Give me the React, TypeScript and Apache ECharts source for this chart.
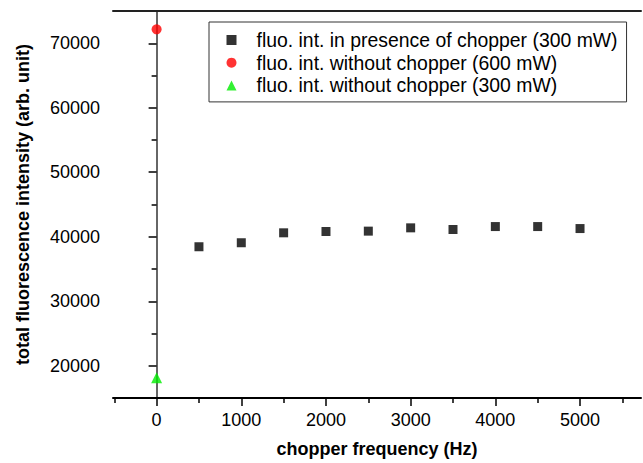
import React, { useEffect, useRef } from "react";
import * as echarts from "echarts";

const chopperFreqs = [500, 1000, 1500, 2000, 2500, 3000, 3500, 4000, 4500, 5000];
const chopperValues = [38450, 39070, 40610, 40810, 40870, 41380, 41120, 41580, 41580, 41270];
const noChopper600 = [[0, 72160]];
const noChopper300 = [[0, 18150]];
const xMajorTicks = [0, 1000, 2000, 3000, 4000, 5000];
const xMinorTicks = [-500, 500, 1500, 2500, 3500, 4500, 5500];
const yMajorTicks = [20000, 30000, 40000, 50000, 60000, 70000];
const yMinorTicks = [25000, 35000, 45000, 55000, 65000];
const seriesNames = [
  "fluo. int. in presence of chopper (300 mW)",
  "fluo. int. without chopper (600 mW)",
  "fluo. int. without chopper (300 mW)",
];
const seriesSymbols = ["rect", "circle", "triangle"];
const seriesColors = ["#000000", "#ff0000", "#00ee00"];

const FONT = "Liberation Sans, Arial, Helvetica, sans-serif";

export default function App() {
  const ref = useRef<HTMLDivElement>(null);
  useEffect(() => {
    if (!ref.current) return;
    const chart = echarts.init(ref.current, null, { renderer: "svg" });
    const xMin = -515;
    const xMax = 5720;
    const yMin = 15000;
    const yMax = 75000;
    const plain = (v: number) => String(v);
    chart.setOption({
      animation: false,
      backgroundColor: "#fff",
      grid: { left: 113, right: 2, top: 11, bottom: 62.5, containLabel: false },
      legend: {
        orient: "vertical",
        left: 209,
        top: 22,
        padding: [8.5, 9, 7, 17.5],
        borderColor: "#333",
        borderWidth: 1,
        itemWidth: 10,
        itemHeight: 10,
        itemGap: 3.7,
        textStyle: { fontFamily: FONT, fontSize: 19.4, color: "#000", lineHeight: 18, padding: [0, 0, 0, 15] },
        data: seriesNames.map((n, i) => ({ name: n, icon: seriesSymbols[i] })),
      },
      xAxis: [
        {
          type: "value",
          position: "bottom",
          min: xMin,
          max: xMax,
          name: "chopper frequency (Hz)",
          nameLocation: "middle",
          nameGap: 42,
          nameTextStyle: { fontFamily: FONT, fontSize: 18, fontWeight: "bold", color: "#000" },
          axisLine: { show: true, lineStyle: { color: "#000", width: 2 } },
          axisTick: { show: true, length: 8, customValues: xMajorTicks, lineStyle: { color: "#000", width: 1.5 } },
          axisLabel: { customValues: xMajorTicks, formatter: plain, fontFamily: FONT, fontSize: 18, color: "#000", margin: 13 },
          splitLine: { show: false },
        },
        {
          type: "value",
          position: "bottom",
          min: xMin,
          max: xMax,
          axisLine: { show: false },
          axisTick: { show: true, length: 5, customValues: xMinorTicks, lineStyle: { color: "#000", width: 1.5 } },
          axisLabel: { show: false },
          splitLine: { show: false },
        },
        {
          type: "value",
          position: "top",
          min: xMin,
          max: xMax,
          axisLine: { show: true, lineStyle: { color: "#222", width: 2 } },
          axisTick: { show: false },
          axisLabel: { show: false },
          splitLine: { show: false },
        },
      ],
      yAxis: [
        {
          type: "value",
          position: "left",
          min: yMin,
          max: yMax,
          name: "total fluorescence intensity (arb. unit)",
          nameLocation: "middle",
          nameGap: 81,
          nameTextStyle: { fontFamily: FONT, fontSize: 18, fontWeight: "bold", color: "#000" },
          axisLine: { show: true, lineStyle: { color: "#000", width: 2 } },
          axisTick: { show: true, length: 8, customValues: yMajorTicks, lineStyle: { color: "#000", width: 1.5 } },
          axisLabel: { customValues: yMajorTicks, formatter: plain, fontFamily: FONT, fontSize: 18, color: "#000", margin: 13 },
          splitLine: { show: false },
        },
        {
          type: "value",
          position: "left",
          min: yMin,
          max: yMax,
          axisLine: { show: false },
          axisTick: { show: true, length: 5, customValues: yMinorTicks, lineStyle: { color: "#000", width: 1.5 } },
          axisLabel: { show: false },
          splitLine: { show: false },
        },
        {
          type: "value",
          position: "right",
          min: yMin,
          max: yMax,
          axisLine: { show: true, lineStyle: { color: "#888", width: 1.5 } },
          axisTick: { show: false },
          axisLabel: { show: false },
          splitLine: { show: false },
        },
      ],
      series: [
        {
          name: seriesNames[0],
          type: "scatter",
          xAxisIndex: 0,
          yAxisIndex: 0,
          symbol: seriesSymbols[0],
          symbolSize: 9,
          itemStyle: { color: seriesColors[0] },
          data: chopperFreqs.map((f, i) => [f, chopperValues[i]]),
        },
        {
          name: seriesNames[1],
          type: "scatter",
          xAxisIndex: 0,
          yAxisIndex: 0,
          symbol: seriesSymbols[1],
          symbolSize: 10,
          itemStyle: { color: seriesColors[1] },
          data: noChopper600,
        },
        {
          name: seriesNames[2],
          type: "scatter",
          xAxisIndex: 0,
          yAxisIndex: 0,
          symbol: seriesSymbols[2],
          symbolSize: 11,
          itemStyle: { color: seriesColors[2] },
          data: noChopper300,
        },
      ],
    });
    return () => chart.dispose();
  }, []);
  return (
    <div
      ref={ref}
      style={{ position: "fixed", left: 0, top: 0, width: 643, height: 463 }}
    />
  );
}
